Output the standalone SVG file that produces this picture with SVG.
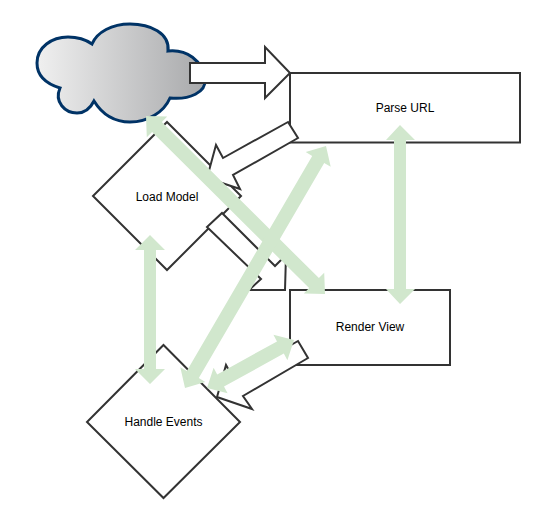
<svg xmlns="http://www.w3.org/2000/svg" width="540" height="518" viewBox="0 0 540 518">
<defs>
<linearGradient id="cloudFill" x1="0" y1="0" x2="1" y2="0"><stop offset="0" stop-color="#f0f0f0"/><stop offset="1" stop-color="#a8a9ab"/></linearGradient>
</defs>
<style>
.shape{fill:#fff;stroke:#333;stroke-width:2}
.arrow{fill:#fff;stroke:#333;stroke-width:2;stroke-linejoin:miter}
.link{fill:#d1e7cd;stroke:none}
text{font-family:"Liberation Sans",Arial,sans-serif;font-size:12px;fill:#000;text-anchor:middle}
</style>
<rect width="540" height="518" fill="#fff"/>
<g id="cloud"><path d="M92,44 C97,32 112,24 130,24 C150,24 170,33 168,51 C186,49 203,60 205,80 C206,92 190,100 170,98 C164,112 148,122 130,122 C114,122 102,114 94,101 C90,109 84,113 77,113 C65,113 54,102 60,88 C47,84 37,76 37,63 C37,47 52,37 68,37 C77,37 85,39 92,44 Z" fill="url(#cloudFill)" stroke="#003366" stroke-width="3"/></g>
<g id="parse-url"><rect class="shape" x="290" y="73" width="230" height="69.500"/><text x="405" y="112">Parse URL</text></g>
<g id="load-model"><polygon class="shape" points="167,122 241,196 167,270 93,196"/><text x="167" y="201">Load Model</text></g>
<g id="render-view"><rect class="shape" x="290" y="290" width="160" height="75"/><text x="370" y="331">Render View</text></g>
<g id="handle-events"><polygon class="shape" points="163.500,345 240,422 163.500,498 87,422"/><text x="163.500" y="426">Handle Events</text></g>
<g id="connectors">
<polygon class="arrow" points="190,63 265,63 265,47 290,73 265,98 265,83 190,83"/>
<polygon class="arrow" points="288,122 223,158 216,145 207,178 240,189 233,175 298,138"/>
<polygon class="arrow" points="222,213 275,266 286,255 285,290 249,290 261,279 207,227"/>
<polygon class="arrow" points="298,341 233,378 226,365 217,397 252,409 243,396 308,358"/>
<polygon class="link" points="146,116 167.200,116.600 161.900,121.900 318.900,278.100 324.200,272.800 325,294 303.800,293.400 309.100,288.100 152.100,131.900 146.800,137.200"/>
<polygon class="link" points="400,125 415,140 406,140 406,289 415,289 400,304 386,289 394,289 394,140 386,140"/>
<polygon class="link" points="150,235 165,250 156,250 156,369 165,369 150,384 135,369 144,369 144,250 135,250"/>
<polygon class="link" points="326,146 330.700,166.700 324.200,162.900 198.800,378.100 205.300,381.900 185,388 180.300,367.300 186.800,371.100 312.200,155.900 305.700,152.100"/>
<polygon class="link" points="207,388 213.600,367.800 217.200,374.400 277,341.400 273.400,334.800 294,340 287.400,360.200 283.800,353.600 224,386.600 227.600,393.200"/>
</g>
</svg>
